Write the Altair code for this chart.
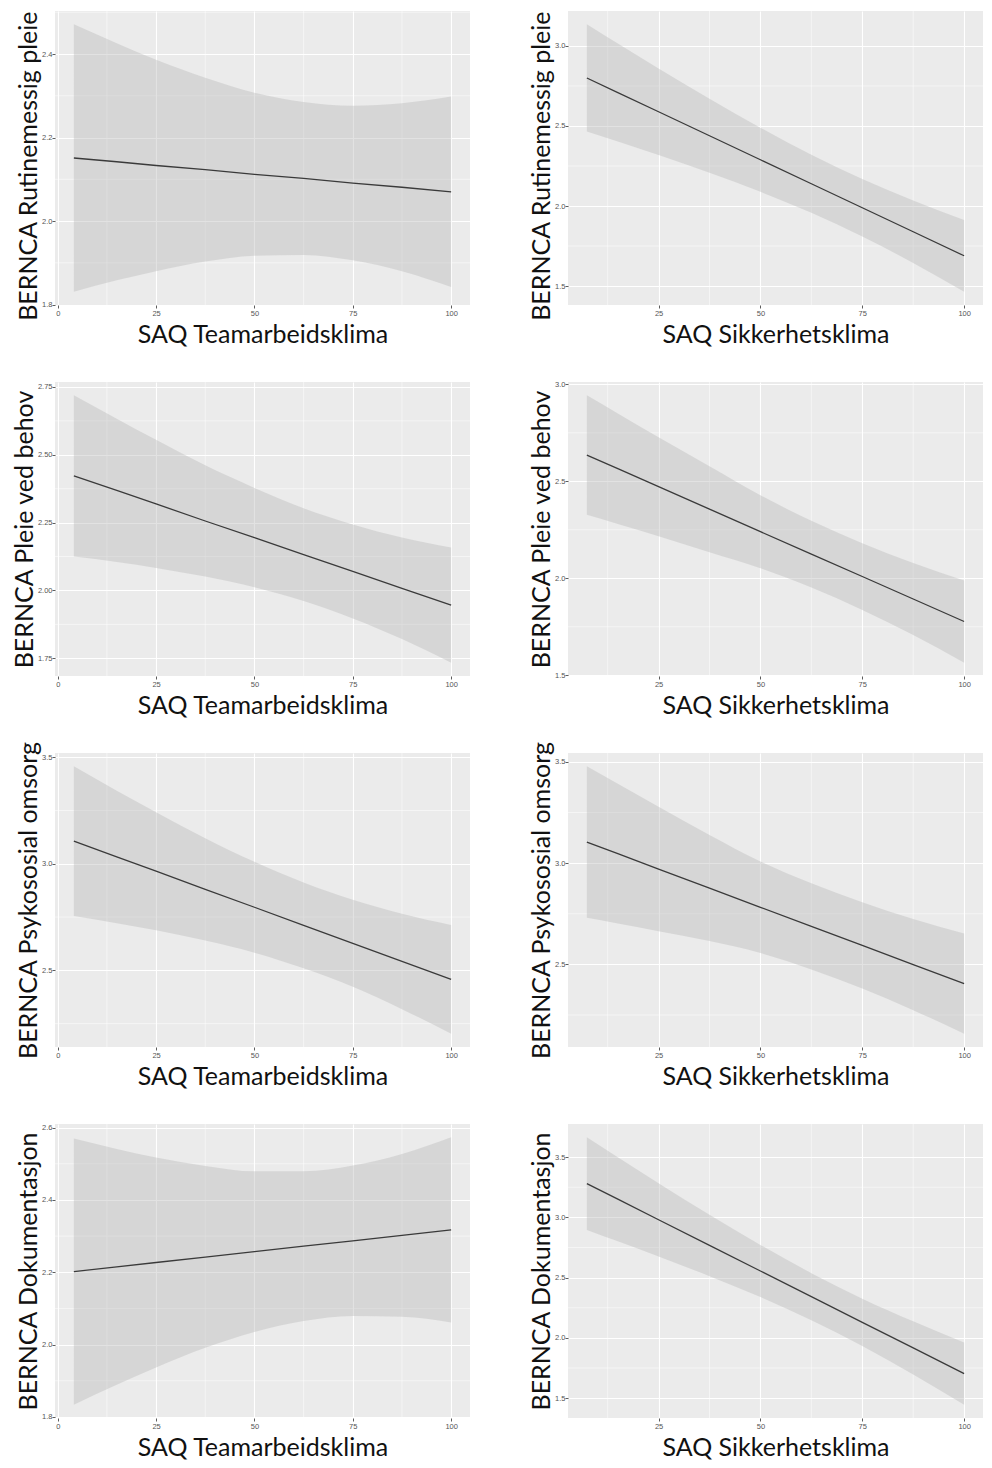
import altair as alt
import pandas as pd

# x positions at which the fitted line and its confidence band were read
X_TEAM = [4.1, 15, 25, 37.5, 50, 62.5, 75, 87.5, 100]
X_SAFE = [7.4, 15, 25, 37.5, 50, 62.5, 75, 87.5, 100]

# BERNCA Rutinemessig pleie
rut_team_fit = [2.151, 2.142, 2.133, 2.123, 2.112, 2.102, 2.091, 2.081, 2.070]
rut_team_lo = [1.831, 1.858, 1.880, 1.903, 1.917, 1.919, 1.906, 1.880, 1.842]
rut_team_hi = [2.471, 2.426, 2.386, 2.343, 2.307, 2.285, 2.276, 2.282, 2.298]
rut_safe_fit = [2.800, 2.709, 2.589, 2.439, 2.289, 2.139, 1.989, 1.839, 1.689]
rut_safe_lo = [2.465, 2.403, 2.318, 2.208, 2.089, 1.958, 1.810, 1.644, 1.465]
rut_safe_hi = [3.135, 3.015, 2.860, 2.670, 2.489, 2.320, 2.169, 2.034, 1.913]

# BERNCA Pleie ved behov
beh_team_fit = [2.422, 2.369, 2.319, 2.256, 2.195, 2.132, 2.070, 2.008, 1.946]
beh_team_lo = [2.125, 2.105, 2.083, 2.051, 2.012, 1.961, 1.897, 1.821, 1.734]
beh_team_hi = [2.719, 2.633, 2.555, 2.461, 2.378, 2.303, 2.243, 2.195, 2.158]
beh_safe_fit = [2.635, 2.565, 2.472, 2.356, 2.240, 2.124, 2.009, 1.893, 1.777]
beh_safe_lo = [2.327, 2.280, 2.217, 2.134, 2.052, 1.952, 1.837, 1.707, 1.565]
beh_safe_hi = [2.943, 2.850, 2.727, 2.578, 2.428, 2.296, 2.181, 2.079, 1.989]

# BERNCA Psykososial omsorg
psy_team_fit = [3.106, 3.032, 2.965, 2.880, 2.796, 2.711, 2.627, 2.542, 2.458]
psy_team_lo = [2.755, 2.721, 2.688, 2.640, 2.583, 2.510, 2.423, 2.318, 2.203]
psy_team_hi = [3.457, 3.343, 3.242, 3.120, 3.009, 2.912, 2.831, 2.766, 2.713]
psy_safe_fit = [3.104, 3.047, 2.971, 2.877, 2.782, 2.688, 2.594, 2.499, 2.405]
psy_safe_lo = [2.730, 2.702, 2.664, 2.615, 2.556, 2.475, 2.381, 2.274, 2.158]
psy_safe_hi = [3.478, 3.392, 3.278, 3.139, 3.008, 2.901, 2.807, 2.724, 2.652]

# BERNCA Dokumentasjon
dok_team_fit = [2.202, 2.215, 2.227, 2.242, 2.257, 2.272, 2.287, 2.302, 2.317]
dok_team_lo = [1.834, 1.889, 1.937, 1.991, 2.035, 2.065, 2.079, 2.077, 2.061]
dok_team_hi = [2.570, 2.541, 2.517, 2.494, 2.479, 2.479, 2.495, 2.527, 2.573]
dok_safe_fit = [3.280, 3.151, 2.980, 2.767, 2.555, 2.342, 2.129, 1.917, 1.704]
dok_safe_lo = [2.896, 2.802, 2.676, 2.512, 2.339, 2.147, 1.933, 1.697, 1.446]
dok_safe_hi = [3.664, 3.500, 3.284, 3.022, 2.771, 2.537, 2.325, 2.137, 1.962]

# axis titles
X_TITLE_TEAM = "SAQ Teamarbeidsklima"
X_TITLE_SAFE = "SAQ Sikkerhetsklima"
Y_TITLES = ["BERNCA Rutinemessig pleie", "BERNCA Pleie ved behov",
            "BERNCA Psykososial omsorg", "BERNCA Dokumentasjon"]

# tick values: major (labelled) and minor (grid only)
X_MAJOR_TEAM = [0, 25, 50, 75, 100]
X_MAJOR_SAFE = [25, 50, 75, 100]
X_MINOR = [12.5, 37.5, 62.5, 87.5]
Y_TICKS = {
    "rut_team": ([1.8, 2.0, 2.2, 2.4], [1.9, 2.1, 2.3, 2.5], ".1f"),
    "rut_safe": ([1.5, 2.0, 2.5, 3.0], [1.75, 2.25, 2.75], ".1f"),
    "beh_team": ([1.75, 2.0, 2.25, 2.5, 2.75], [1.875, 2.125, 2.375, 2.625], ".2f"),
    "beh_safe": ([1.5, 2.0, 2.5, 3.0], [1.75, 2.25, 2.75], ".1f"),
    "psy_team": ([2.5, 3.0, 3.5], [2.25, 2.75, 3.25], ".1f"),
    "psy_safe": ([2.5, 3.0, 3.5], [2.25, 2.75, 3.25], ".1f"),
    "dok_team": ([1.8, 2.0, 2.2, 2.4, 2.6], [1.9, 2.1, 2.3, 2.5], ".1f"),
    "dok_safe": ([1.5, 2.0, 2.5, 3.0, 3.5], [1.75, 2.25, 2.75, 3.25], ".1f"),
}

W, H = 415, 294
TITLE_FONT = "Lato"
TITLE_SIZE = 25


def make_axis(values, fmt, title_pad, label_pad, anchor=None):
    kw = {}
    if anchor is not None:
        kw["titleAnchor"] = anchor
    return alt.Axis(
        values=values,
        format=fmt,
        grid=True,
        gridColor="#FFFFFF",
        gridWidth=1.1,
        domain=False,
        tickColor="#333333",
        tickSize=3,
        tickWidth=0.8,
        labelFont="Liberation Sans",
        labelFontSize=7.5,
        labelColor="#555555",
        labelPadding=label_pad,
        labelOverlap=False,
        labelFlush=False,
        titleFont=TITLE_FONT,
        titleFontSize=TITLE_SIZE,
        titleFontWeight="normal",
        titleColor="#111111",
        titlePadding=title_pad,
        **kw,
    )


def panel(xs, fit, lo, hi, key, ytitle, xtitle, xmajor, top_row=False):
    df = pd.DataFrame({"x": xs, "fit": fit, "lo": lo, "hi": hi})
    xr = max(xs) - min(xs)
    xdom = [min(xs) - 0.05 * xr, max(xs) + 0.05 * xr]
    ymin, ymax = min(lo), max(hi)
    yr = ymax - ymin
    ydom = [ymin - 0.05 * yr, ymax + 0.05 * yr]
    ymajor, yminor, yfmt = Y_TICKS[key]
    xaxis = make_axis(xmajor, "d", 6, 1)
    yaxis = make_axis(ymajor, yfmt, 0, 0, anchor="end" if top_row else None)
    xs_ = alt.Scale(domain=xdom, nice=False, zero=False)
    ys_ = alt.Scale(domain=ydom, nice=False, zero=False)
    X = alt.X("x:Q", scale=xs_, axis=xaxis, title=xtitle)

    xminor = alt.Chart(pd.DataFrame({"x": X_MINOR})).mark_rule(
        color="#FFFFFF", strokeWidth=0.5
    ).encode(x=X)
    yminor_rules = alt.Chart(pd.DataFrame({"lo": yminor})).mark_rule(
        color="#FFFFFF", strokeWidth=0.5
    ).encode(y=alt.Y("lo:Q", scale=ys_, axis=yaxis, title=ytitle))

    base = alt.Chart(df)
    band = base.mark_area(color="#BBBBBB", opacity=0.42, interpolate="monotone").encode(
        x=X,
        y=alt.Y("lo:Q", scale=ys_, axis=yaxis, title=ytitle),
        y2="hi:Q",
    )
    line = base.mark_line(color="#3A3A3A", strokeWidth=1.3).encode(
        x=X,
        y=alt.Y("fit:Q", scale=ys_, axis=yaxis, title=ytitle),
    )
    return alt.layer(xminor, yminor_rules, band, line).properties(width=W, height=H)


panels = [
    panel(X_TEAM, rut_team_fit, rut_team_lo, rut_team_hi, "rut_team", Y_TITLES[0], X_TITLE_TEAM, X_MAJOR_TEAM, True),
    panel(X_SAFE, rut_safe_fit, rut_safe_lo, rut_safe_hi, "rut_safe", Y_TITLES[0], X_TITLE_SAFE, X_MAJOR_SAFE, True),
    panel(X_TEAM, beh_team_fit, beh_team_lo, beh_team_hi, "beh_team", Y_TITLES[1], X_TITLE_TEAM, X_MAJOR_TEAM),
    panel(X_SAFE, beh_safe_fit, beh_safe_lo, beh_safe_hi, "beh_safe", Y_TITLES[1], X_TITLE_SAFE, X_MAJOR_SAFE),
    panel(X_TEAM, psy_team_fit, psy_team_lo, psy_team_hi, "psy_team", Y_TITLES[2], X_TITLE_TEAM, X_MAJOR_TEAM),
    panel(X_SAFE, psy_safe_fit, psy_safe_lo, psy_safe_hi, "psy_safe", Y_TITLES[2], X_TITLE_SAFE, X_MAJOR_SAFE),
    panel(X_TEAM, dok_team_fit, dok_team_lo, dok_team_hi, "dok_team", Y_TITLES[3], X_TITLE_TEAM, X_MAJOR_TEAM),
    panel(X_SAFE, dok_safe_fit, dok_safe_lo, dok_safe_hi, "dok_safe", Y_TITLES[3], X_TITLE_SAFE, X_MAJOR_SAFE),
]

chart = alt.concat(
    *panels,
    columns=2,
    spacing={"row": 77, "column": 98},
    bounds="flush",
    align="all",
).properties(
    padding={"left": 4, "top": 2, "right": 0, "bottom": 0},
    background="#FFFFFF",
).configure_view(
    fill="#EBEBEB", stroke=None
)

chart.save("out.html", embed_options={"renderer": "svg", "actions": False})
